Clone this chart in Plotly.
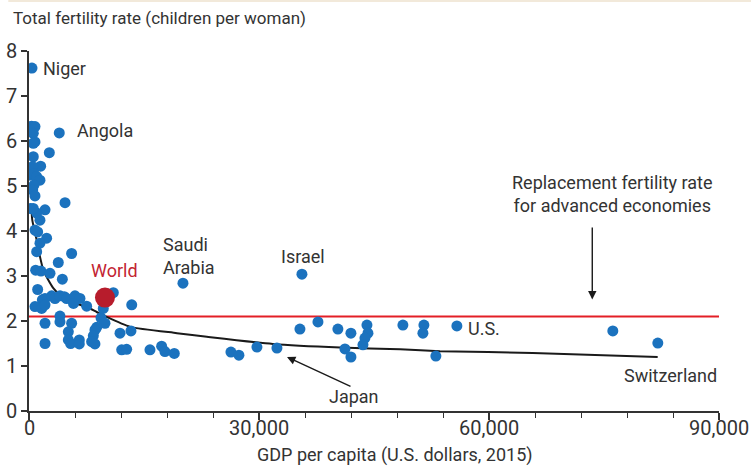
import plotly.graph_objects as go

# ---- data ----
gdp = [390, 3950, 350, 780, 560, 780, 560, 2650, 560, 1520, 480, 130, 650, 1000, 1430,
       650, 480, 780, 4700, 220, 2090, 1000, 560, 1430, 780, 1130, 2300, 1430, 1000, 5560,
       3820, 870, 1560, 2740, 4350, 1130, 1740, 2090, 2960, 3390, 4040, 4610, 4910, 6000,
       6650, 5800, 7520, 780, 1650, 2090, 4040, 4040, 2090, 5560, 9390, 9690, 9910, 8830,
       11000, 13400, 8600, 11870, 13300, 8390, 8170, 8600, 12090, 12740, 15780, 17300,
       17730, 18950, 2090, 5130, 5130, 5430, 6560, 6560,
       20080, 35600, 26340, 27380, 29730, 32340, 35340, 37690, 40290, 41990, 44080, 44210,
       43820, 43560, 41210, 41990, 48770, 51510, 51380, 53070, 55810, 76150, 82020]
fertility = [7.62, 6.18, 6.33, 6.32, 6.17, 5.98, 5.95, 5.74, 5.65, 5.44, 5.43, 5.24, 5.27, 5.21, 5.13,
             5.02, 4.91, 4.78, 4.63, 4.50, 4.47, 4.40, 4.50, 4.24, 4.02, 3.98, 3.84, 3.73, 3.54, 3.50,
             3.30, 3.13, 3.11, 3.06, 2.93, 2.70, 2.47, 2.50, 2.56, 2.50, 2.56, 2.54, 2.50, 2.56,
             2.50, 2.39, 2.33, 2.32, 2.28, 2.36, 2.11, 1.98, 1.95, 1.95, 2.07, 2.28, 1.95, 1.86,
             2.63, 2.36, 1.80, 1.73, 1.78, 1.67, 1.54, 1.49, 1.36, 1.37, 1.36, 1.44,
             1.32, 1.28, 1.50, 1.76, 1.58, 1.50, 1.58, 1.49,
             2.84, 3.04, 1.31, 1.24, 1.42, 1.40, 1.82, 1.98, 1.82, 1.73, 1.91, 1.73,
             1.62, 1.47, 1.38, 1.20, 1.91, 1.91, 1.73, 1.22, 1.89, 1.78, 1.51]

world_gdp = [9910]
world_fertility = [2.52]

trend_gdp = [300, 430, 1000, 1430, 1870, 2520, 3170, 4270, 6000, 7700, 8830, 10000,
             13200, 19300, 23200, 31800, 40600, 48400, 53600, 65700, 82000]
trend_fertility = [4.55, 4.24, 3.80, 3.43, 3.13, 2.91, 2.73, 2.54, 2.40, 2.30, 2.20, 2.10,
                   1.87, 1.73, 1.65, 1.49, 1.41, 1.37, 1.33, 1.29, 1.20]

replacement_rate = 2.1
x_range = [0, 90000]
y_range = [0, 8]
x_ticks = [0, 30000, 60000, 90000]
x_tick_labels = ["0", "30,000", "60,000", "90,000"]
y_ticks = [0, 1, 2, 3, 4, 5, 6, 7, 8]

FONT = "Roboto, Liberation Sans, sans-serif"
TXT = "#333333"
BLUE = "#1b72be"
DARKRED = "#b71c2c"
RED = "#e31f26"
FS = 18
TICKFS = 20

fig = go.Figure()
fig.add_trace(go.Scatter(x=x_range, y=[replacement_rate, replacement_rate], mode="lines",
                         line=dict(color=RED, width=2), hoverinfo="skip"))
fig.add_trace(go.Scatter(x=trend_gdp, y=trend_fertility, mode="lines",
                         line=dict(color="#1a1a1a", width=2, shape="spline", smoothing=0.6),
                         hoverinfo="skip"))
fig.add_trace(go.Scatter(x=gdp, y=fertility, mode="markers",
                         marker=dict(color=BLUE, size=11, line=dict(width=0))))
fig.add_trace(go.Scatter(x=world_gdp, y=world_fertility, mode="markers",
                         marker=dict(color=DARKRED, size=20, line=dict(width=0))))

def label(x, y, text, anchor="left", color=TXT):
    fig.add_annotation(x=x, y=y, text=text, showarrow=False, xanchor=anchor, yanchor="middle",
                       align=anchor if anchor != "center" else "center",
                       font=dict(family=FONT, size=FS, color=color))

label(1565, 7.62, "Niger")
label(6000, 6.24, "Angola")
label(17220, 3.44, "Saudi<br>Arabia")
label(32600, 3.44, "Israel")
label(7830, 3.13, "World", color="#c32432")
label(57000, 1.84, "U.S.")
label(90000, 0.78, "Switzerland", anchor="right")
label(42390, 0.33, "Japan", anchor="center")
label(76170, 4.83, "Replacement fertility rate<br>for advanced economies", anchor="center")

# arrows
fig.add_annotation(x=33650, y=1.2, ax=42130, ay=0.53, axref="x", ayref="y", text="",
                   showarrow=True, arrowhead=2, arrowsize=1.2, arrowwidth=1.4, arrowcolor="#1a1a1a")
fig.add_annotation(x=73470, y=2.48, ax=73470, ay=4.11, axref="x", ayref="y", text="",
                   showarrow=True, arrowhead=2, arrowsize=1.2, arrowwidth=1.4, arrowcolor="#1a1a1a")

# x tick labels (placed closer to the axis than plotly's default)
for v, t in zip(x_ticks, x_tick_labels):
    fig.add_annotation(x=v, y=-0.047, xref="x", yref="paper", text=t, showarrow=False,
                       xanchor="center", yanchor="middle",
                       font=dict(family=FONT, size=TICKFS, color=TXT))

# axis titles
fig.add_annotation(x=-0.026, y=1.0917, xref="paper", yref="paper", text="Total fertility rate (children per woman)",
                   showarrow=False, xanchor="left", yanchor="middle",
                   font=dict(family=FONT, size=17, color=TXT))
fig.add_annotation(x=0.531, y=-0.122, xref="paper", yref="paper", text="GDP per capita (U.S. dollars, 2015)",
                   showarrow=False, xanchor="center", yanchor="middle",
                   font=dict(family=FONT, size=FS, color=TXT))

# top beige rule
fig.add_shape(type="line", xref="paper", yref="paper", x0=-0.03, x1=1.05, y0=1.139, y1=1.139,
              line=dict(color="#f2e9da", width=2))

fig.update_xaxes(range=x_range, tickvals=x_ticks, showticklabels=False, showgrid=False, zeroline=False,
                 automargin=False,
                 showline=True, linecolor="#333333", linewidth=1.5, ticks="outside", ticklen=7,
                 tickwidth=1.5, tickcolor="#333333",
                 minor=dict(dtick=6000, ticks="outside", ticklen=5, tickwidth=1.2, tickcolor="#333333"))
fig.update_yaxes(range=y_range, tickvals=y_ticks, showgrid=False, zeroline=False,
                 automargin=False,
                 showline=True, linecolor="#333333", linewidth=1.5, ticks="outside", ticklen=6,
                 tickwidth=1.5, tickcolor="#333333",
                 tickfont=dict(family=FONT, size=TICKFS, color=TXT))

fig.update_layout(width=751, height=469, margin=dict(l=29, r=32, t=51, b=58),
                  plot_bgcolor="white", paper_bgcolor="white", showlegend=False)

fig.write_html("out.html", config={"displayModeBar": False},
               post_script="document.body.style.margin='0';document.body.style.overflow='hidden';")
